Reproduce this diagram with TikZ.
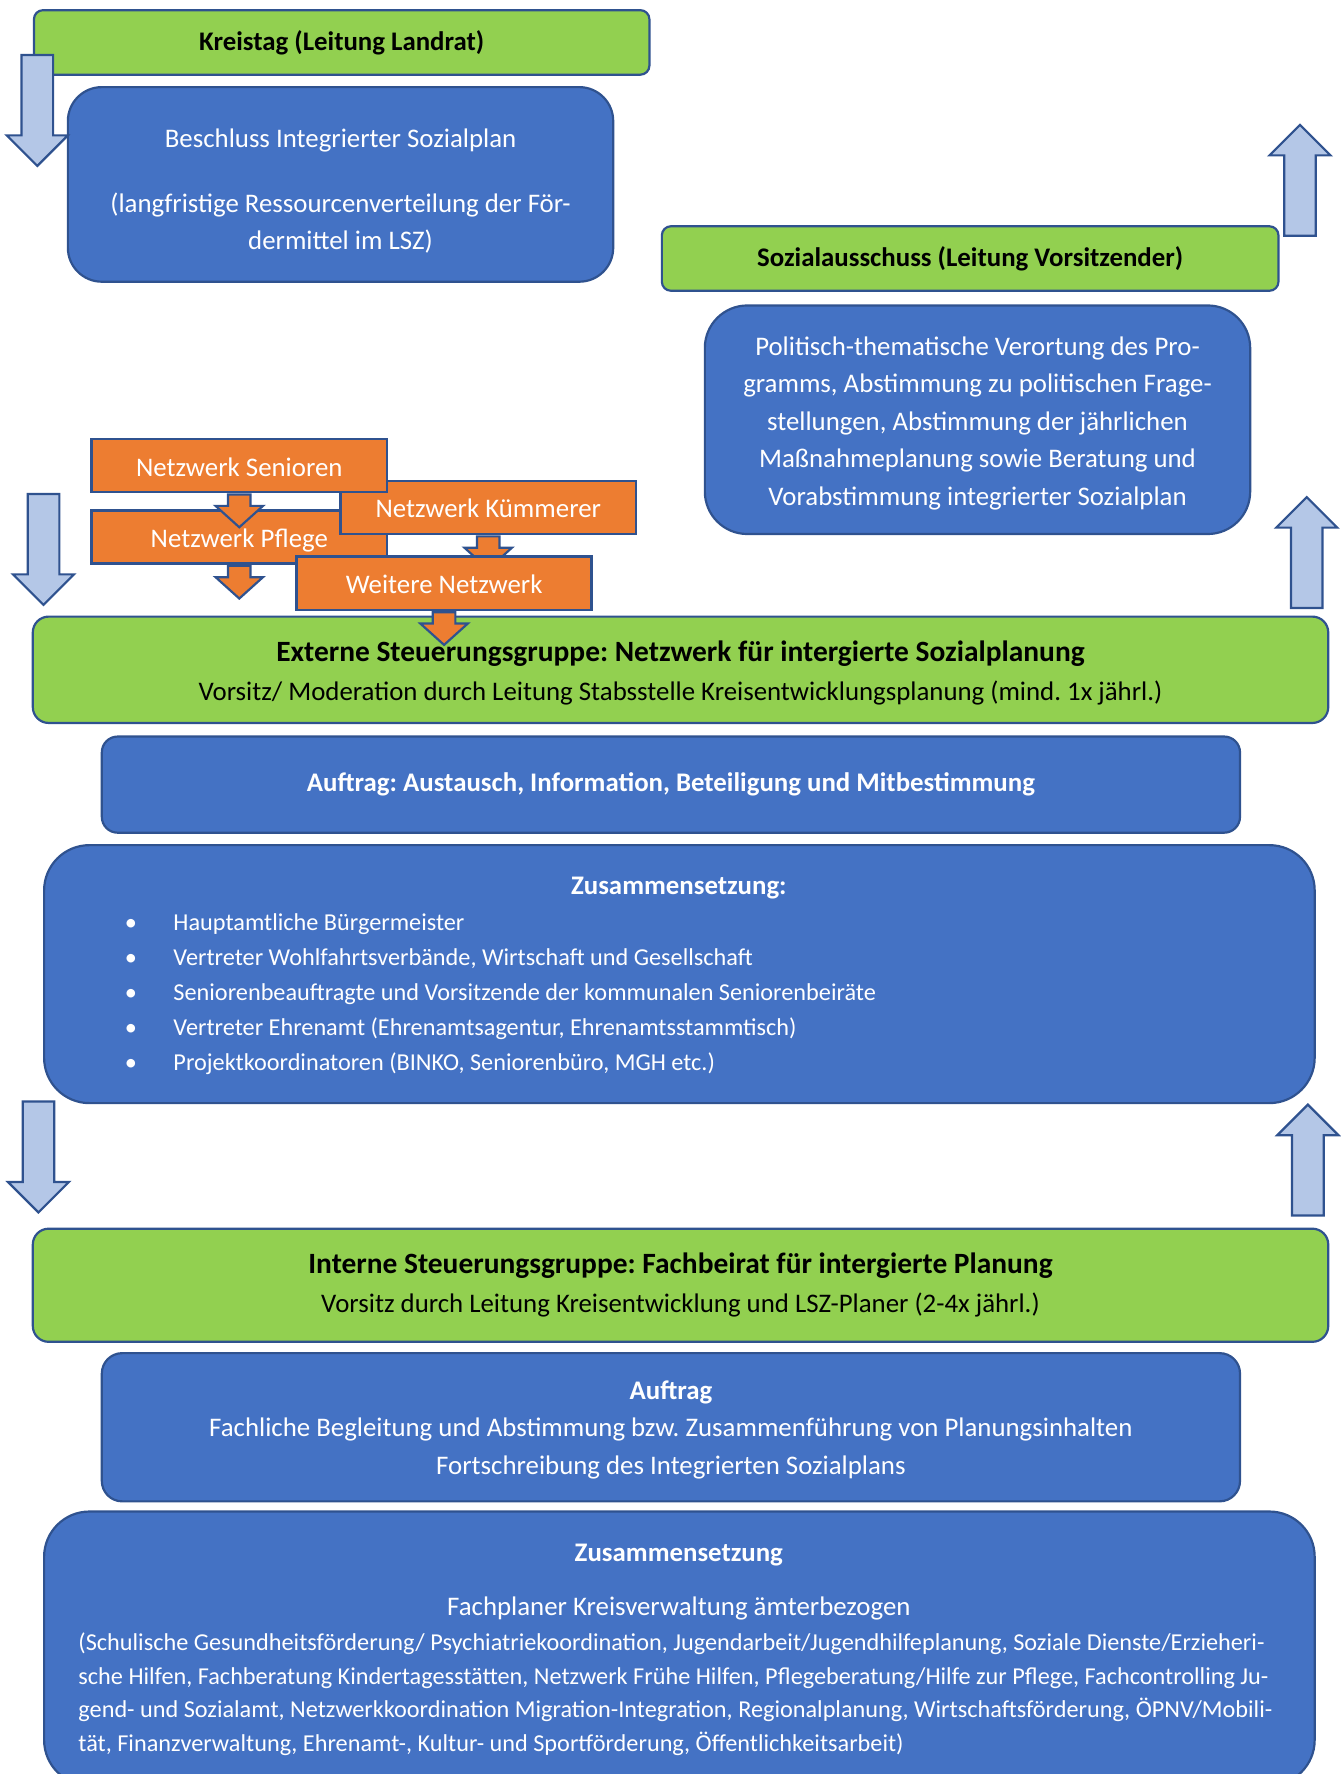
\documentclass[tikz,border=0pt]{standalone}
\usepackage{fontspec}
\setmainfont{Carlito}
\usepackage{tikz}
\usetikzlibrary{shapes.arrows}
\frenchspacing

\definecolor{boxgreen}{HTML}{92D050}
\definecolor{boxblue}{HTML}{4472C4}
\definecolor{boxline}{HTML}{2F528F}
\definecolor{netorange}{HTML}{ED7D31}
\definecolor{arrowblue}{HTML}{B4C7E7}
\newcommand{\topgap}[1]{\rule{0pt}{#1}}

\begin{document}
\begin{tikzpicture}[
  x=0.2mm, y=-0.2mm,
  greenbox/.style={draw=boxline, line width=1.1pt, fill=boxgreen, rounded corners=1.6mm,
                   align=center, text=black, inner sep=0pt, font=\fontsize{13.5}{18.8}\selectfont},
  bluebox/.style={draw=boxline, line width=1.1pt, fill=boxblue, rounded corners=6mm,
                  align=center, text=white, inner sep=0pt, font=\fontsize{13.5}{18.8}\selectfont},
  netbox/.style={draw=boxline, line width=1.3pt, fill=netorange, text=white, inner sep=0pt,
                 minimum width=52.2mm, minimum height=9.4mm, text height=12pt, text depth=1.5pt,
                 font=\fontsize{13.5}{18.8}\selectfont},
  whitetext/.style={text=white, inner sep=0pt, font=\fontsize{13.5}{18.8}\selectfont},
  bigarrow/.style={single arrow, draw=boxline, line width=1.1pt, fill=arrowblue, inner sep=2.6mm,
                   single arrow head extend=2.6mm, minimum height=19.6mm, anchor=tip},
  netarrow/.style={single arrow, draw=boxline, line width=1.1pt, fill=netorange, inner sep=1.8mm,
                   single arrow head extend=2.2mm, single arrow tip angle=96, minimum height=5mm,
                   anchor=tail, shape border rotate=270},
  pointdown/.style={shape border rotate=270},
  pointup/.style={shape border rotate=90}
]
\useasboundingbox (0,0) rectangle (1185,1568);

% Kreistag
\node[greenbox, minimum width=108.8mm, minimum height=11.4mm] (kreistag) at (302,37.5)
  {\textbf{Kreistag (Leitung Landrat)}};
\node[bluebox, minimum width=96.4mm, minimum height=34.4mm] (beschluss) at (301,163)
  {\topgap{16.3pt}Beschluss Integrierter Sozialplan\\[4.8mm](langfristige Ressourcenverteilung der För-\\dermittel im LSZ)};
\node[bigarrow, pointdown] (arrkreistag) at (33,148) {};

% Sozialausschuss
\node[greenbox, minimum width=109mm, minimum height=11.4mm] (sozial) at (857.5,228.5)
  {\textbf{Sozialausschuss (Leitung Vorsitzender)}};
\node[bluebox, rounded corners=7.5mm, minimum width=96.4mm, minimum height=40.4mm] (politik) at (864,371)
  {\topgap{12.9pt}Politisch-thematische Verortung des Pro-\\gramms, Abstimmung zu politischen Frage-\\stellungen, Abstimmung der jährlichen\\Maßnahmeplanung sowie Beratung und\\Vorabstimmung integrierter Sozialplan};
\node[bigarrow, pointup] (arrsozial) at (1149,109) {};
\node[bigarrow, pointup] (arrextern) at (1155,438) {};
\node[bigarrow, pointdown] (arrnetz) at (38.5,536) {};

% Netzwerke
\node[netbox] (pflege) at (211.5,474.5) {Netzwerk Pflege};
\node[netbox] (kuemmerer) at (431.5,448.5) {Netzwerk Kümmerer};
\node[netbox] (senioren) at (211.5,411.5) {Netzwerk Senioren};
\node[netarrow] (arrsenioren) at (senioren.south) {};
\node[netarrow] (arrkuemmerer) at (kuemmerer.south) {};
\node[netarrow] (arrpflege) at (pflege.south) {};
\node[netbox] (weitere) at (392.5,515.5) {Weitere Netzwerk};

% Externe Steuerungsgruppe
\node[greenbox, rounded corners=2.8mm, minimum width=229mm, minimum height=18.8mm] (extern) at (601.5,592)
  {{\fontsize{14.8}{18.8}\selectfont\bfseries\topgap{13.9pt}Externe Steuerungsgruppe: Netzwerk für intergierte Sozialplanung}\\[1pt]
   Vorsitz/ Moderation durch Leitung Stabsstelle Kreisentwicklungsplanung (mind. 1x jährl.)};
\node[netarrow] (arrweitere) at (weitere.south) {};
\node[bluebox, rounded corners=2.8mm, minimum width=201.2mm, minimum height=17mm] (auftrag) at (593,693.5)
  {\textbf{Auftrag: Austausch, Information, Beteiligung und Mitbestimmung}};
\node[bluebox, rounded corners=8mm, minimum width=224.6mm, minimum height=45.6mm] (zusammen) at (600.5,861) {};
\node[whitetext] (zushead) at (600,785) {\textbf{Zusammensetzung:}};
\node[whitetext, anchor=west, align=left, font=\fontsize{12.2}{17.6}\selectfont] (zusliste) at (110,879)
  {\makebox[8.6mm][l]{\textbullet}Hauptamtliche Bürgermeister\\
   \makebox[8.6mm][l]{\textbullet}Vertreter Wohlfahrtsverbände, Wirtschaft und Gesellschaft\\
   \makebox[8.6mm][l]{\textbullet}Seniorenbeauftragte und Vorsitzende der kommunalen Seniorenbeiräte\\
   \makebox[8.6mm][l]{\textbullet}Vertreter Ehrenamt (Ehrenamtsagentur, Ehrenamtsstammtisch)\\
   \makebox[8.6mm][l]{\textbullet}Projektkoordinatoren (BINKO, Seniorenbüro, MGH etc.)};
\node[bigarrow, pointdown] (arrintern) at (34,1073) {};
\node[bigarrow, pointup] (arrzusammen) at (1156,975) {};

% Interne Steuerungsgruppe
\node[greenbox, rounded corners=2.8mm, minimum width=229mm, minimum height=20mm] (intern) at (601.5,1136)
  {{\fontsize{14.8}{18.8}\selectfont\bfseries Interne Steuerungsgruppe: Fachbeirat für intergierte Planung}\\[1pt]
   Vorsitz durch Leitung Kreisentwicklung und LSZ-Planer (2-4x jährl.)};
\node[bluebox, rounded corners=3.6mm, minimum width=201.2mm, minimum height=26.2mm] (auftragintern) at (593,1261.5)
  {\topgap{11.8pt}\textbf{Auftrag}\\Fachliche Begleitung und Abstimmung bzw. Zusammenführung von Planungsinhalten\\Fortschreibung des Integrierten Sozialplans};
\node[bluebox, rounded corners=8mm, minimum width=224.6mm, minimum height=48.4mm] (zusintern) at (600.5,1457) {};
\node[whitetext] (zusinternhead) at (600,1374.5) {\textbf{Zusammensetzung}};
\node[whitetext] (fachplaner) at (600,1421.5) {Fachplaner Kreisverwaltung ämterbezogen};
\node[whitetext, anchor=west, align=left, font=\fontsize{12.2}{17}\selectfont] (fachliste) at (69,1497.5)
  {(Schulische Gesundheitsförderung/ Psychiatriekoordination, Jugendarbeit/Jugendhilfeplanung, Soziale Dienste/Erzieheri-\\
   sche Hilfen, Fachberatung Kindertagesstätten, Netzwerk Frühe Hilfen, Pflegeberatung/Hilfe zur Pflege, Fachcontrolling Ju-\\
   gend- und Sozialamt, Netzwerkkoordination Migration-Integration, Regionalplanung, Wirtschaftsförderung, ÖPNV/Mobili-\\
   tät, Finanzverwaltung, Ehrenamt-, Kultur- und Sportförderung, Öffentlichkeitsarbeit)};
\end{tikzpicture}
\end{document}
